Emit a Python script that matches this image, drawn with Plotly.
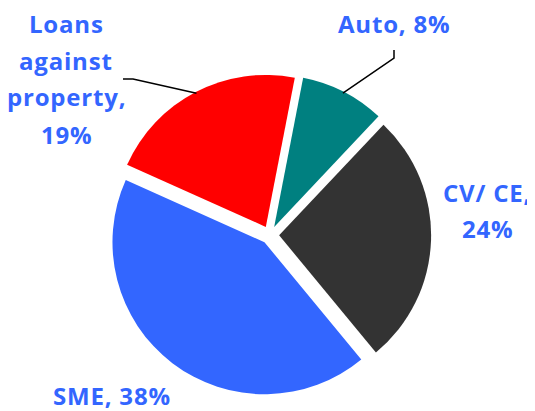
import math
import textwrap
import plotly.graph_objects as go

# slices, clockwise from the top
labels = ['Auto', 'CV/ CE', 'SME', 'Loans against property']
values = [8, 24, 38, 19]
colors = ['#008080', '#333333', '#3366FF', '#FF0000']
wrap_widths = [20, 7, 20, 9]

# page has an 8px body margin, so the figure is drawn 8px in from the window corner
OFF = 8
W, H = 535 - OFF, 411 - OFF
cx, cy = 270, 235          # pie centre, window px
R = 152                    # radius in px
pull = 0.06
rotation = 11

# label placement (window px, centre of first line) and leader elbows
label_pos = [(394, 23), (487, 192), (112, 395), (66, 23)]
elbows = [[(394, 50), (394, 58)], None, None, [(123, 79), (133, 79)]]
line_step = 37


def px(x, y):
    return (x - OFF) / W, 1 - (y - OFF) / H


box = 2 * R * (1 + pull)
x0, y1 = px(cx - box / 2, cy - box / 2)
x1, y0 = px(cx + box / 2, cy + box / 2)

fig = go.Figure()
fig.add_trace(go.Pie(
    labels=labels,
    values=values,
    marker=dict(colors=colors, line=dict(width=0)),
    pull=[pull] * len(values),
    sort=False,
    direction='clockwise',
    rotation=rotation,
    textinfo='none',
    hoverinfo='label+percent',
    showlegend=False,
    domain=dict(x=[x0, x1], y=[y0, y1]),
))

total = sum(values)
cum = 0
shapes = []
annotations = []
for i, (lab, val) in enumerate(zip(labels, values)):
    mid = math.radians(rotation + 360 * (cum + val / 2) / total)
    cum += val
    lines = textwrap.wrap(f'{lab}, {val}%', wrap_widths[i])
    lx, ly = label_pos[i]
    for k, ln in enumerate(lines):
        ax, ay = px(lx, ly + k * line_step)
        annotations.append(dict(
            x=ax, y=ay, xref='paper', yref='paper',
            text=f'<span style="letter-spacing:0.8px">{ln}</span>',
            showarrow=False, xanchor='center', yanchor='middle', borderpad=0,
            font=dict(family='Open Sans', size=24, weight=700, color='#3366FF')))
    if elbows[i]:
        ox = cx + pull * R * math.sin(mid) + 0.99 * R * math.sin(mid)
        oy = cy - pull * R * math.cos(mid) - 0.99 * R * math.cos(mid)
        pts = [px(*p) for p in elbows[i]] + [px(ox, oy)]
        path = 'M ' + ' L '.join(f'{a} {b}' for a, b in pts)
        shapes.append(dict(type='path', path=path, xref='paper', yref='paper',
                           line=dict(color='black', width=1.5)))

fig.update_layout(
    width=W, height=H,
    margin=dict(l=0, r=0, t=0, b=0),
    paper_bgcolor='white',
    plot_bgcolor='white',
    annotations=annotations,
    shapes=shapes,
)

fig.write_html('out.html')
